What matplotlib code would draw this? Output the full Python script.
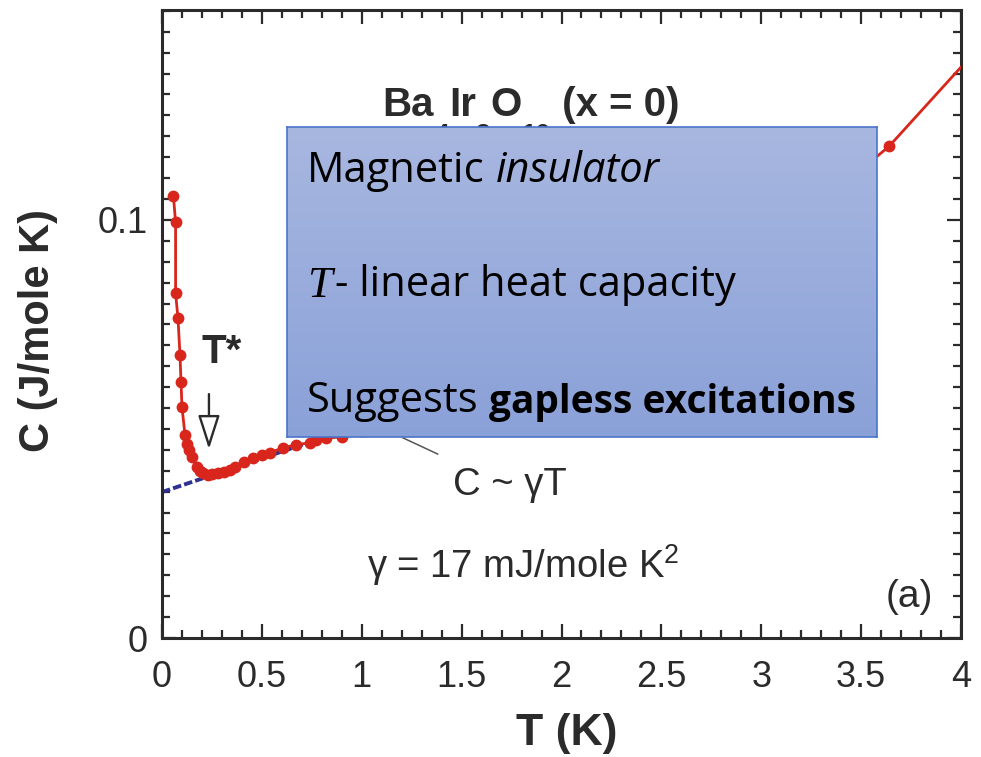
import numpy as np
import matplotlib
matplotlib.use("Agg")
import matplotlib.pyplot as plt
from matplotlib.colors import LinearSegmentedColormap

plt.rcParams['font.family'] = ['Liberation Sans', 'DejaVu Sans']
plt.rcParams['mathtext.fontset'] = 'custom'
plt.rcParams['mathtext.rm'] = 'Liberation Sans'
plt.rcParams['mathtext.it'] = 'Liberation Sans:italic'
plt.rcParams['mathtext.bf'] = 'Liberation Sans:bold'

# ---- data ----
T_data = [0.057, 0.068, 0.068, 0.080, 0.090, 0.095, 0.100, 0.115, 0.125, 0.135,
          0.148, 0.173, 0.190, 0.207, 0.230, 0.250, 0.280, 0.310, 0.340, 0.365,
          0.410, 0.455, 0.500, 0.540, 0.605, 0.670, 0.740, 0.770, 0.820, 0.900,
          1.000, 1.500, 2.000, 2.500, 3.000, 3.300, 3.640, 4.100]
C_data = [0.1058, 0.0994, 0.0825, 0.0765, 0.0677, 0.0613, 0.0553, 0.0486, 0.0465, 0.0450,
          0.0434, 0.0410, 0.0400, 0.0395, 0.0390, 0.0392, 0.0395, 0.0398, 0.0402, 0.0410,
          0.0420, 0.0431, 0.0437, 0.0443, 0.0455, 0.0462, 0.0467, 0.0474, 0.0478, 0.0481,
          0.0495, 0.0570, 0.0670, 0.0790, 0.0930, 0.1040, 0.1176, 0.1418]

fit_T = [0.0, 1.2]
fit_C = [0.0349, 0.0543]

leader_T = [1.205, 1.38]
leader_C = [0.0479, 0.0440]

xticks = [0, 0.5, 1, 1.5, 2, 2.5, 3, 3.5, 4]
xticklabels = ["0", "0.5", "1", "1.5", "2", "2.5", "3", "3.5", "4"]
yticks = [0, 0.1]
yticklabels = ["0", "0.1"]

W, H = 981, 757
fig = plt.figure(figsize=(W / 100, H / 100), dpi=100)
ax = fig.add_axes([162 / W, 1 - 638 / H, 799 / W, 628 / H])

dark = '#2b2b2b'
ax.plot(fit_T, fit_C, color='#2e3192', lw=2.8, dashes=[2.2, 0.8], zorder=2)
ax.plot(T_data, C_data, color='#d9261c', lw=2.0, marker='o', ms=7.5,
        mec='#d9261c', mfc='#d9261c', zorder=3)
ax.plot(leader_T, leader_C, color='#555555', lw=1.1, zorder=2)

ax.set_xlim(0, 4)
ax.set_ylim(0, 0.1502)
ax.set_xticks(xticks)
ax.set_xticklabels(xticklabels)
ax.set_xticks(np.arange(0, 4.0001, 0.1), minor=True)
ax.set_yticks(yticks)
ax.set_yticklabels(yticklabels)
ax.set_yticks(np.arange(0, 0.1501, 0.005), minor=True)

ax.tick_params(which='both', direction='in', top=True, right=True, color=dark, width=1.6)
ax.tick_params(which='major', length=10)
ax.tick_params(which='minor', length=5.5)
ax.tick_params(axis='x', which='major', labelsize=26, pad=16, labelcolor=dark)
ax.tick_params(axis='y', which='major', labelsize=26, pad=10, labelcolor=dark)
for s in ax.spines.values():
    s.set_linewidth(2.2)
    s.set_color(dark)

ax.set_xlabel("T (K)", fontsize=32, fontweight='bold', color=dark)
ax.xaxis.set_label_coords(0.507, (638 - 745) / 628)
ax.xaxis.label.set_va('baseline')
ax.set_ylabel("C (J/mole K)", fontsize=30, fontweight='bold', color=dark)
ax.yaxis.set_label_coords((38 - 162) / 799, (638 - 330) / 628)
ax.yaxis.label.set_va('center')

# title with subscripts dropped (hidden by the overlay box)
tfs, sfs, drop = 29, 19, 17
tkw = dict(fontsize=tfs, fontweight='bold', color=dark)
skw = dict(fontsize=sfs, fontweight='bold', color=dark)
prev = ax.text(1.105, 0.1249, "Ba", va='baseline', ha='left', **tkw)
for main, sub in [("Ir", "4"), ("O", "3"), (" (x = 0)", "10")]:
    s = ax.annotate(sub, xy=(1, 0), xycoords=prev, xytext=(0, -drop),
                    textcoords='offset points', va='bottom', ha='left', **skw)
    prev = ax.annotate(main, xy=(1, 0), xycoords=s, xytext=(0, drop),
                       textcoords='offset points', va='bottom', ha='left', **tkw)

ax.text(0.2, 0.0658, "T*", fontsize=29, fontweight='bold', color=dark, va='baseline', ha='left')
ax.annotate("", xy=(0.235, 0.0445), xytext=(0.235, 0.0590),
            arrowprops=dict(arrowstyle='-|>,head_length=1.0,head_width=0.32',
                            mutation_scale=21, fc='white', ec=dark, lw=1.7))
ax.text(1.455, 0.0342, "C ~ γT", fontsize=27.5, color=dark, va='baseline', ha='left')
ax.text(1.025, 0.01435, "γ = 17 mJ/mole K$^2$", fontsize=27.5, color=dark, va='baseline', ha='left')
ax.text(3.625, 0.0074, "(a)", fontsize=28, color=dark, va='baseline', ha='left')

# ---- overlay box ----
bx = fig.add_axes([287 / W, 1 - 437 / H, 590 / W, 310 / H])
cmap = LinearSegmentedColormap.from_list('g', ['#8aa1d8', '#a8b7e0'])
grad = np.linspace(0, 1, 256).reshape(-1, 1)
bx.imshow(grad, aspect='auto', cmap=cmap, extent=[0, 1, 0, 1], origin='lower')
bx.set_xlim(0, 1)
bx.set_ylim(0, 1)
bx.set_xticks([])
bx.set_yticks([])
for s in bx.spines.values():
    s.set_color('#4a74c9')
    s.set_linewidth(1.2)

bf = ['Open Sans', 'DejaVu Sans']
fs = 30
x0 = (307 - 287) / 590
y1, y2, y3 = (437 - 182) / 310, (437 - 297) / 310, (437 - 412) / 310
sp = fs * 0.26

t1 = bx.text(x0, y1, "Magnetic", fontsize=fs, family=bf, va='baseline', ha='left', color='black')
bx.annotate("insulator", xy=(1, 0), xycoords=t1, xytext=(sp, 0), textcoords='offset points',
            fontsize=fs, family=bf, style='italic', va='bottom', ha='left', color='black')

t2 = bx.text(x0, y2, "T", fontsize=fs + 2, family=['Liberation Serif'], style='italic',
             va='baseline', ha='left', color='black')
bx.annotate("- linear heat capacity", xy=(1, 0), xycoords=t2, xytext=(2, 0),
            textcoords='offset points', fontsize=fs, family=bf, va='bottom', ha='left',
            color='black')

t3 = bx.text(x0, y3, "Suggests", fontsize=fs, family=bf, va='baseline', ha='left', color='black')
bx.annotate("gapless excitations", xy=(1, 0), xycoords=t3, xytext=(sp, 0),
            textcoords='offset points', fontsize=fs - 2, family=bf, fontweight='bold',
            va='bottom', ha='left', color='black')

fig.savefig("out.png", dpi=100)
